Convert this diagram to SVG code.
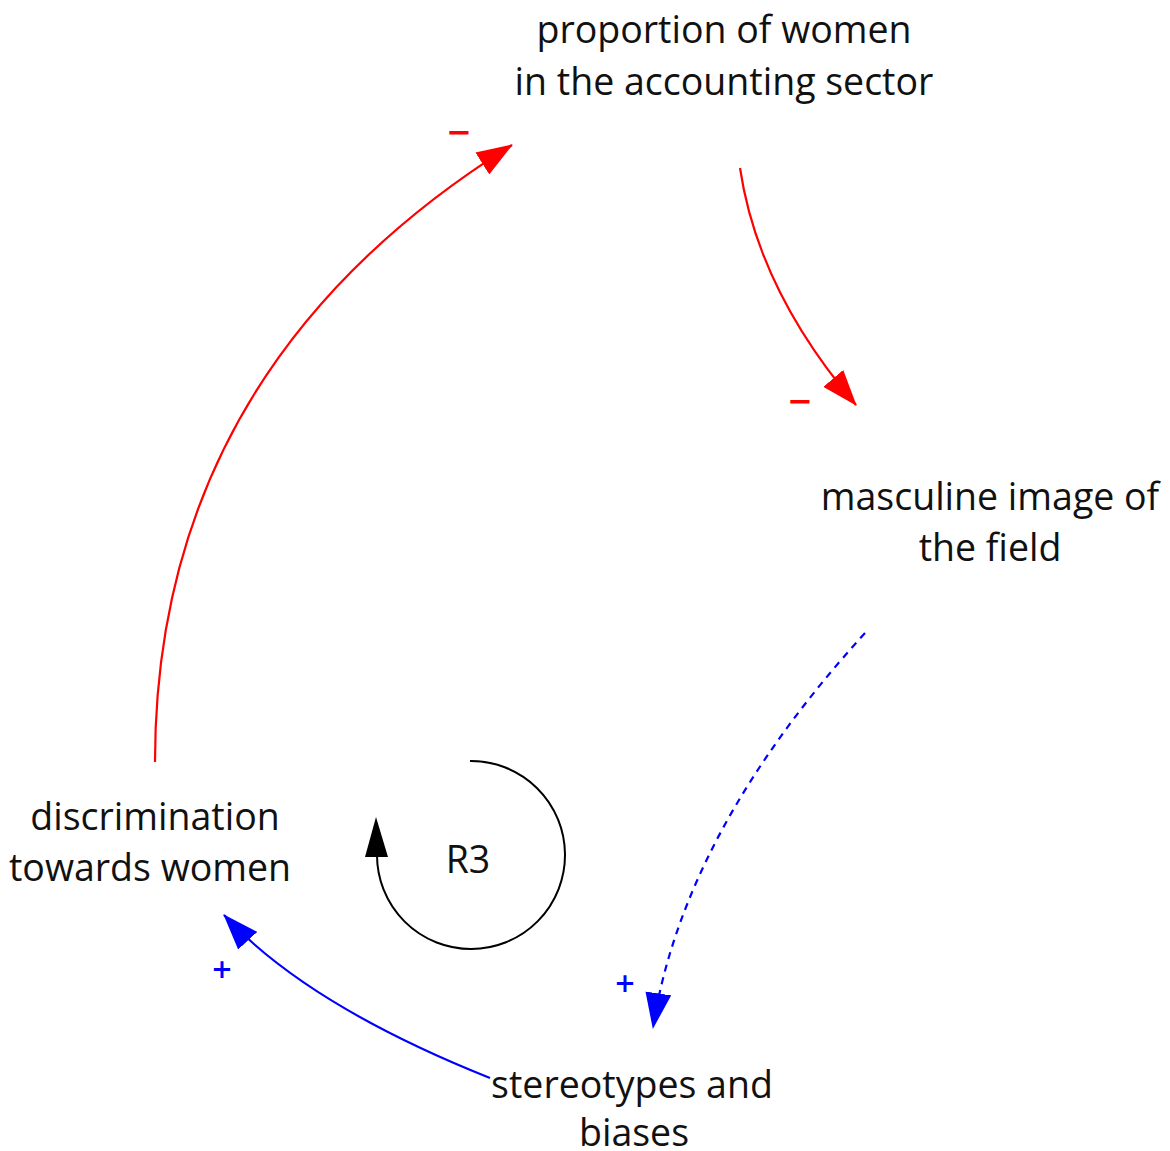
<svg xmlns="http://www.w3.org/2000/svg" width="1170" height="1151" viewBox="0 0 1170 1151">
<style>
.lbl{font-family:"Open Sans","Liberation Sans",sans-serif;font-size:37.5px;fill:#111;text-anchor:middle}
.red{stroke:#ff0000;stroke-width:2.2;fill:none}
.blue{stroke:#0000ff;stroke-width:2.2;fill:none}
.sr{font-family:"Open Sans","Liberation Sans",sans-serif;font-size:40px;font-weight:600;fill:#ff0000;text-anchor:middle}
.sb{font-family:"Open Sans","Liberation Sans",sans-serif;font-size:34px;font-weight:600;fill:#0000ff;text-anchor:middle}
</style>
<defs>
<marker id="ar" viewBox="0 0 36 26" refX="35" refY="13" markerWidth="36" markerHeight="26" orient="auto" markerUnits="userSpaceOnUse"><path d="M0,0 L36,13 L0,26 Z" fill="#ff0000"/></marker>
<marker id="ab" viewBox="0 0 36 26" refX="35" refY="13" markerWidth="36" markerHeight="26" orient="auto" markerUnits="userSpaceOnUse"><path d="M0,0 L36,13 L0,26 Z" fill="#0000ff"/></marker>
</defs>
<rect width="1170" height="1151" fill="#fff"/>
<g id="connectors">
<path class="red" d="M155,762 Q155,368 512,145" marker-end="url(#ar)"/>
<path class="red" d="M740,168 Q758,290 856,405" marker-end="url(#ar)"/>
<path class="blue" d="M865,633 Q683,833 653,1028" stroke-dasharray="7,6" marker-end="url(#ab)"/>
<path class="blue" d="M490,1078 Q307,1005 224,915" marker-end="url(#ab)"/>
<text class="sr" x="459" y="147">−</text>
<text class="sr" x="800" y="416">−</text>
<text class="sb" x="222" y="982">+</text>
<text class="sb" x="625" y="996">+</text>
</g>
<g id="loop-R3">
<path d="M470,761 A94,94 0 1 1 377,855" fill="none" stroke="#000" stroke-width="2"/>
<path d="M376,817 L365,857 L388,857 Z" fill="#000"/>
<text class="lbl" x="468" y="873">R3</text>
</g>
<g id="node-proportion">
<text class="lbl" x="724" y="43">proportion of women</text>
<text class="lbl" x="724" y="95">in the accounting sector</text>
</g>
<g id="node-masculine">
<text class="lbl" x="990" y="510">masculine image of</text>
<text class="lbl" x="990" y="561">the field</text>
</g>
<g id="node-stereotypes">
<text class="lbl" x="632" y="1098">stereotypes and</text>
<text class="lbl" x="634" y="1146">biases</text>
</g>
<g id="node-discrimination">
<text class="lbl" x="155" y="830">discrimination</text>
<text class="lbl" x="150" y="881">towards women</text>
</g>
</svg>
